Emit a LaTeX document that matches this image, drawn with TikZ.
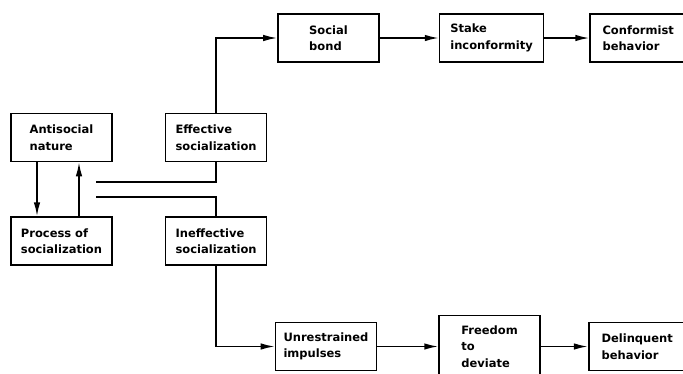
\documentclass[tikz,border=0pt]{standalone}
\usepackage{fontspec}
\setmainfont{DejaVu Sans}
\usetikzlibrary{positioning,arrows.meta}

\begin{document}
\begin{tikzpicture}[x=1pt, y=-1pt, node distance=52pt,
    box/.style={draw, line width=1.6pt, minimum width=101pt, minimum height=48pt, inner sep=2pt, align=left, font=\bfseries\fontsize{11.5}{16.5}\selectfont},
    flow/.style={line width=1.6pt, -{Latex[length=14pt,width=6.5pt]}},
    link/.style={line width=1.6pt}]
    \useasboundingbox (0,0) rectangle (683,373);
    \node[box] (antisocial_nature) at (61.5,137.5) {Antisocial\\nature};
    \node[box] (process_socialization) [below=54pt of antisocial_nature] {Process of\\socialization};
    \node[box] (effective_socialization) [right=52pt of antisocial_nature] {Effective\\socialization};
    \node[box] (ineffective_socialization) [below=54pt of effective_socialization] {Ineffective\\socialization};
    \node[box] (social_bond) at (328.5,38) {Social\\bond};
    \node[box, minimum width=104pt] (stake_conformity) [right=59pt of social_bond] {Stake\\inconformity};
    \node[box, minimum width=96pt] (conformist_behavior) [right=45pt of stake_conformity] {Conformist\\behavior};
    \node[box] (unrestrained_impulses) at (326,346.5) {Unrestrained\\impulses};
    \node[box, minimum height=62pt] (freedom_deviate) [right=61pt of unrestrained_impulses] {Freedom\\to\\deviate};
    \node[box, minimum width=97pt] (delinquent_behavior) [right=47pt of freedom_deviate] {Delinquent\\behavior};
    \coordinate (fork_upper) at (96,182);
    \coordinate (fork_lower) at (96,197);
    \draw[flow] ([xshift=-24.5pt]antisocial_nature.south) -- ([xshift=-24.5pt]process_socialization.north);
    \draw[flow] ([xshift=17.5pt]process_socialization.north) -- ([xshift=17.5pt]antisocial_nature.south);
    \draw[link] (fork_upper) -| (effective_socialization.south);
    \draw[link] (fork_lower) -| (ineffective_socialization.north);
    \draw[flow] (effective_socialization.north) |- (social_bond.west);
    \draw[flow] (social_bond) -- (stake_conformity);
    \draw[flow] (stake_conformity) -- (conformist_behavior);
    \draw[flow] (ineffective_socialization.south) |- (unrestrained_impulses.west);
    \draw[flow] (unrestrained_impulses) -- (freedom_deviate);
    \draw[flow] (freedom_deviate) -- (delinquent_behavior);
\end{tikzpicture}
\end{document}
